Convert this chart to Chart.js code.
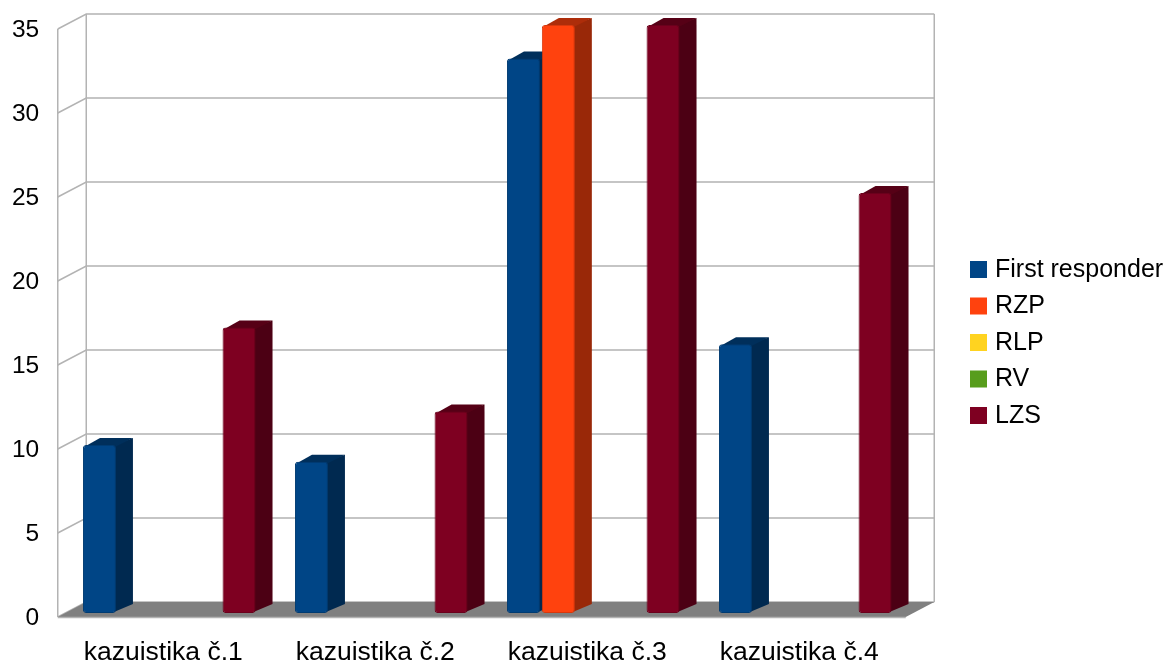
<!DOCTYPE html>
<html>
<head>
<meta charset="utf-8">
<title>Kazuistiky</title>
<script src="https://cdn.jsdelivr.net/npm/chart.js@4/dist/chart.umd.min.js"></script>
<style>
  html, body { margin: 0; padding: 0; background: #ffffff; }
  #wrap { width: 1171px; height: 664px; }
</style>
</head>
<body>
<div id="wrap"><canvas id="casesChart" width="1171" height="664"></canvas></div>
<script>
const categories = ["kazuistika č.1", "kazuistika č.2", "kazuistika č.3", "kazuistika č.4"];
const seriesNames = ["First responder", "RZP", "RLP", "RV", "LZS"];
const firstResponder = [10, 9, 33, 16];
const rzp = [0, 0, 35, 0];
const rlp = [0, 0, 0, 0];
const rv = [0, 0, 0, 0];
const lzs = [17, 12, 35, 25];
const yTicks = [0, 5, 10, 15, 20, 25, 30, 35];
const seriesColors = ["#004586", "#ff420e", "#ffd320", "#579d1c", "#7e0021"];

const FONT = "'Liberation Sans', Arial, sans-serif";

// fake 3D: offsets relative to the plane the bar fronts sit on
const DEPTH = { dx: 17, dy: -7 };
const FRONT = { dx: -5.5, dy: 4 };
const BACK = { dx: 23, dy: -11 };

function shade(hex, f) {
  const n = parseInt(hex.slice(1), 16);
  const r = Math.round(((n >> 16) & 255) * f);
  const g = Math.round(((n >> 8) & 255) * f);
  const b = Math.round((n & 255) * f);
  return "rgb(" + r + "," + g + "," + b + ")";
}

const walls = {
  id: "walls",
  beforeDatasetsDraw(chart) {
    const { ctx, chartArea } = chart;
    const y = chart.scales.y;
    const L = chartArea.left, R = chartArea.right;
    const yTop = y.getPixelForValue(yTicks[yTicks.length - 1]);
    const y0 = y.getPixelForValue(0);
    ctx.save();
    ctx.strokeStyle = "#b3b3b3";
    ctx.lineWidth = 1.5;

    yTicks.forEach((v) => {
      const py = y.getPixelForValue(v);
      ctx.beginPath();
      ctx.moveTo(L + FRONT.dx, py + FRONT.dy);
      ctx.lineTo(L + BACK.dx, py + BACK.dy);
      ctx.lineTo(R + BACK.dx, py + BACK.dy);
      ctx.stroke();
    });

    ctx.beginPath();
    ctx.moveTo(L + FRONT.dx, yTop + FRONT.dy);
    ctx.lineTo(L + FRONT.dx, y0 + FRONT.dy);
    ctx.moveTo(L + BACK.dx, yTop + BACK.dy);
    ctx.lineTo(L + BACK.dx, y0 + BACK.dy);
    ctx.moveTo(R + BACK.dx, yTop + BACK.dy);
    ctx.lineTo(R + BACK.dx, y0 + BACK.dy);
    ctx.stroke();

    // floor
    ctx.fillStyle = "#808080";
    ctx.beginPath();
    ctx.moveTo(L + FRONT.dx, y0 + FRONT.dy);
    ctx.lineTo(R + FRONT.dx, y0 + FRONT.dy);
    ctx.lineTo(R + BACK.dx, y0 + BACK.dy);
    ctx.lineTo(L + BACK.dx, y0 + BACK.dy);
    ctx.closePath();
    ctx.fill();
    ctx.beginPath();
    ctx.moveTo(L + FRONT.dx, y0 + FRONT.dy + 0.5);
    ctx.lineTo(R + FRONT.dx, y0 + FRONT.dy + 0.5);
    ctx.stroke();

    // side and top faces of every bar, fronts are drawn by chart.js on top
    chart.data.datasets.forEach((ds, i) => {
      const meta = chart.getDatasetMeta(i);
      const base = seriesColors[i];
      meta.data.forEach((bar, j) => {
        if (!ds.data[j]) return;
        const p = bar.getProps(["x", "y", "base", "width"], true);
        const left = p.x - p.width / 2, right = p.x + p.width / 2;
        const top = p.y, bottom = p.base;
        ctx.fillStyle = shade(base, 0.6);
        ctx.beginPath();
        ctx.moveTo(right - 2, top);
        ctx.lineTo(right + DEPTH.dx, top + DEPTH.dy);
        ctx.lineTo(right + DEPTH.dx, bottom + DEPTH.dy - 2);
        ctx.lineTo(right - 2, bottom - 1);
        ctx.closePath();
        ctx.fill();
        ctx.fillStyle = shade(base, 0.68);
        ctx.beginPath();
        ctx.moveTo(left + 1, top + 2);
        ctx.lineTo(left + DEPTH.dx, top + DEPTH.dy);
        ctx.lineTo(right + DEPTH.dx, top + DEPTH.dy);
        ctx.lineTo(right - 1, top + 2);
        ctx.closePath();
        ctx.fill();
      });
    });
    ctx.restore();
  },
};

const sideLegend = {
  id: "sideLegend",
  afterDraw(chart) {
    const { ctx } = chart;
    ctx.save();
    ctx.font = "25px " + FONT;
    ctx.textBaseline = "middle";
    ctx.textAlign = "left";
    seriesNames.forEach((name, i) => {
      const cy = 269 + i * 36.5;
      ctx.fillStyle = seriesColors[i];
      ctx.fillRect(970, cy - 8, 17, 17);
      ctx.fillStyle = "#000000";
      ctx.fillText(name, 995, cy + 1);
    });
    ctx.restore();
  },
};

const seriesValues = [firstResponder, rzp, rlp, rv, lzs];

new Chart(document.getElementById("casesChart"), {
  type: "bar",
  data: {
    labels: categories,
    datasets: seriesNames.map((name, i) => ({
      label: name,
      data: seriesValues[i],
      backgroundColor: seriesColors[i],
      borderColor: shade(seriesColors[i], 0.85),
      borderWidth: (c) => (c.raw > 0 ? 1 : 0),
      borderRadius: 3,
      borderSkipped: false,
      categoryPercentage: 0.823,
      barPercentage: 0.945,
    })),
  },
  options: {
    responsive: false,
    animation: false,
    layout: { padding: { left: 0, top: 25, right: 259.75, bottom: 0 } },
    plugins: {
      legend: { display: false },
      tooltip: { enabled: false },
    },
    scales: {
      x: {
        grid: { display: false },
        border: { display: false },
        ticks: {
          color: "#000000",
          font: { family: FONT, size: 26.5 },
          labelOffset: -6,
          padding: 15.5,
        },
        afterFit: (scale) => { scale.height = 51; },
      },
      y: {
        min: 0,
        max: 35,
        grid: { display: false, drawTicks: false },
        border: { display: false },
        ticks: {
          stepSize: 5,
          color: "#000000",
          font: { family: FONT, size: 24.5 },
          padding: 24,
          labelOffset: 5,
        },
        afterFit: (scale) => {
          scale.width = 63.25;
          scale.paddingTop = 0;
          scale.paddingBottom = 0;
        },
      },
    },
  },
  plugins: [walls, sideLegend],
});
</script>
</body>
</html>
